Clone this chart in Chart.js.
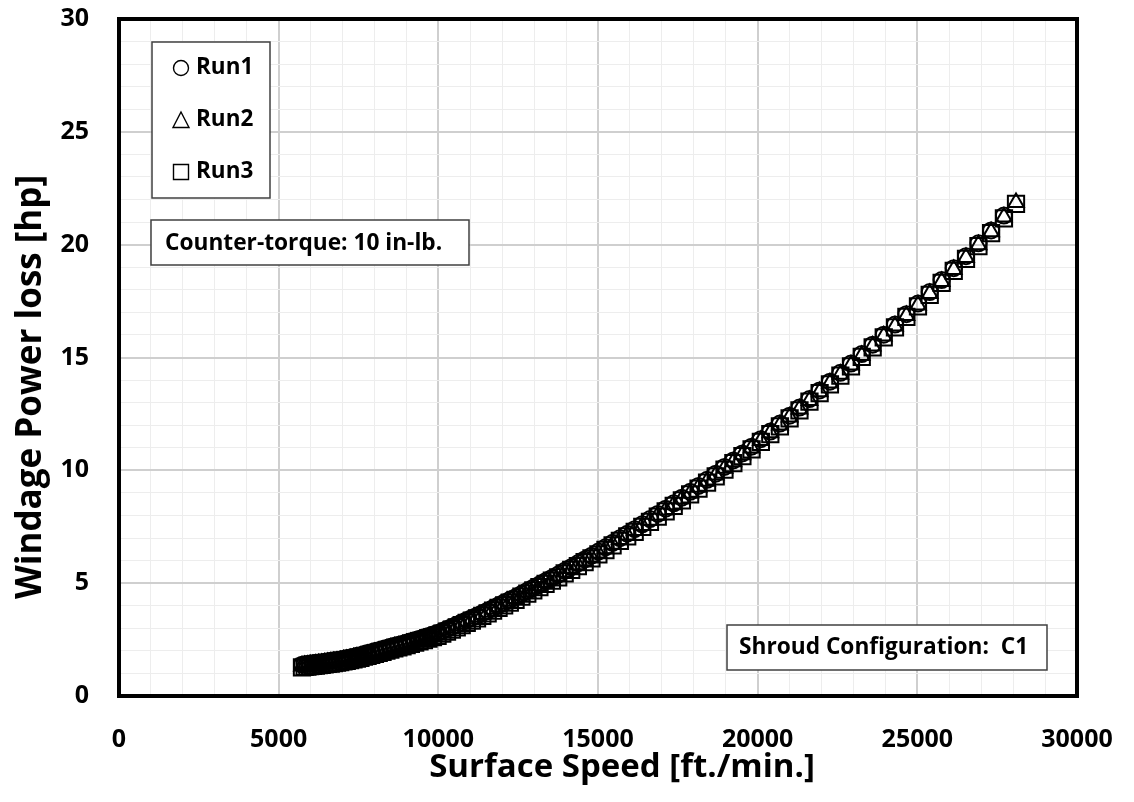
<!DOCTYPE html>
<html><head><meta charset="utf-8">
<script src="https://cdn.jsdelivr.net/npm/chart.js@4.4.1/dist/chart.umd.min.js"></script>
<style>html,body{margin:0;padding:0;background:#fff;}#wrap{width:1134px;height:802px;position:relative;}</style>
</head><body><div id="wrap"><canvas id="c" width="1134" height="802"></canvas></div>
<script>
// ---- data ----
const speedFtMin = [
5730,5814,5900,5987,6075,6164,6255,6347,6440,6535,
6631,6728,6827,6927,7029,7132,7237,7343,7451,7561,
7672,7785,7899,8015,8133,8253,8374,8497,8622,8749,
8878,9008,9140,9275,9411,9549,9690,9832,9977,10124,
10272,10423,10577,10732,10890,11050,11212,11377,11544,11714,
11886,12061,12238,12418,12601,12786,12974,13165,13358,13555,
13754,13956,14161,14369,14581,14795,15012,15233,15457,15684,
15915,16149,16386,16627,16871,17119,17371,17626,17885,18148,
18415,18686,18961,19239,19522,19809,20100,20396,20696,21000,
21309,21622,21940,22263,22590,22922,23259,23601,23948,24300,
24657,25020,25388,25761,26140,26524,26914,27310,27711,28090];
const run1Hp = [
1.39,1.41,1.42,1.44,1.45,1.47,1.49,1.50,1.52,1.54,
1.56,1.58,1.60,1.62,1.65,1.68,1.71,1.74,1.78,1.81,
1.86,1.90,1.94,1.99,2.03,2.08,2.13,2.18,2.23,2.27,
2.32,2.37,2.43,2.48,2.54,2.60,2.66,2.73,2.79,2.88,
2.97,3.06,3.16,3.26,3.36,3.46,3.56,3.67,3.78,3.90,
4.02,4.14,4.26,4.38,4.52,4.66,4.80,4.94,5.09,5.23,
5.38,5.55,5.71,5.88,6.05,6.22,6.40,6.59,6.79,6.99,
7.19,7.39,7.61,7.84,8.07,8.30,8.54,8.79,9.05,9.31,
9.58,9.85,10.15,10.44,10.75,11.05,11.38,11.72,12.07,12.42,
12.78,13.16,13.54,13.93,14.32,14.73,15.15,15.57,16.01,16.46,
16.92,17.39,17.90,18.43,18.96,19.49,20.06,20.63,21.29];
const run2Hp = [
1.33,1.35,1.36,1.38,1.39,1.41,1.43,1.44,1.46,1.48,
1.50,1.52,1.54,1.56,1.59,1.62,1.65,1.68,1.72,1.75,
1.80,1.84,1.88,1.93,1.97,2.02,2.07,2.12,2.17,2.21,
2.26,2.31,2.37,2.42,2.48,2.54,2.60,2.67,2.73,2.82,
2.91,3.00,3.10,3.20,3.30,3.40,3.50,3.61,3.72,3.84,
3.96,4.08,4.20,4.32,4.46,4.60,4.74,4.88,5.03,5.17,
5.32,5.49,5.65,5.82,5.99,6.16,6.34,6.53,6.73,6.93,
7.13,7.33,7.55,7.78,8.01,8.24,8.48,8.73,8.99,9.25,
9.52,9.79,10.09,10.38,10.69,10.99,11.32,11.66,12.01,12.36,
12.72,13.10,13.48,13.87,14.26,14.67,15.09,15.51,15.95,16.40,
16.86,17.33,17.84,18.37,18.90,19.43,20.00,20.57,21.23,21.87];
const run3Hp = [
1.27,1.29,1.30,1.32,1.33,1.35,1.37,1.38,1.40,1.42,
1.44,1.46,1.48,1.50,1.53,1.56,1.59,1.62,1.66,1.69,
1.74,1.78,1.82,1.87,1.91,1.96,2.01,2.06,2.11,2.15,
2.20,2.25,2.31,2.36,2.42,2.48,2.54,2.61,2.67,2.76,
2.85,2.94,3.04,3.14,3.24,3.34,3.44,3.55,3.66,3.78,
3.90,4.02,4.14,4.26,4.40,4.54,4.68,4.82,4.97,5.11,
5.26,5.43,5.59,5.76,5.93,6.10,6.28,6.47,6.67,6.87,
7.07,7.27,7.49,7.72,7.95,8.18,8.42,8.67,8.93,9.19,
9.46,9.73,10.03,10.32,10.63,10.93,11.26,11.60,11.95,12.30,
12.66,13.04,13.42,13.81,14.20,14.61,15.03,15.45,15.89,16.34,
16.80,17.27,17.78,18.31,18.84,19.37,19.94,20.51,21.17,21.81];
const seriesNames = ['Run1','Run2','Run3'];
const xTickLabels = ['0','5000','10000','15000','20000','25000','30000'];
const yTickLabels = ['0','5','10','15','20','25','30'];
const xAxisTitle = 'Surface Speed [ft./min.]';
const yAxisTitle = 'Windage Power loss [hp]';
const noteTorque = 'Counter-torque: 10 in-lb.';
const noteShroud = 'Shroud Configuration:  C1';

// ---- chart ----
const FAM = '"Open Sans", "Liberation Sans", sans-serif';
const toPts = hp => hp.map((y, i) => ({x: speedFtMin[i], y}));

function drawSym(ctx, kind, cx, cy) {
  ctx.save();
  ctx.strokeStyle = '#000'; ctx.lineWidth = 1.4;
  ctx.beginPath();
  if (kind === 0) ctx.arc(cx, cy, 7.5, 0, Math.PI * 2);
  else if (kind === 1) { ctx.moveTo(cx, cy - 8); ctx.lineTo(cx + 8, cy + 7.5); ctx.lineTo(cx - 8, cy + 7.5); ctx.closePath(); }
  else ctx.rect(cx - 7.5, cy - 7.5, 15, 15);
  ctx.stroke();
  ctx.restore();
}
function box(ctx, x, y, w, h) {
  ctx.save();
  ctx.fillStyle = '#fff'; ctx.fillRect(x, y, w, h);
  ctx.strokeStyle = '#404040'; ctx.lineWidth = 1.5; ctx.strokeRect(x, y, w, h);
  ctx.restore();
}

const decor = {
  id: 'decor',
  afterDatasetsDraw(chart) {
    const ctx = chart.ctx, ca = chart.chartArea;
    const lx = ca.left + 33, ly = ca.top + 23;
    box(ctx, lx, ly, 118, 156);
    ctx.save();
    ctx.fillStyle = '#000'; ctx.textBaseline = 'middle'; ctx.textAlign = 'left';
    ctx.font = 'bold 22.5px ' + FAM;
    seriesNames.forEach((n, i) => {
      const cy = ly + 26 + i * 52;
      drawSym(ctx, i, lx + 29, cy);
      ctx.fillText(n, lx + 44, cy);
    });
    ctx.restore();
    ctx.save();
    ctx.textBaseline = 'middle'; ctx.textAlign = 'left';
    ctx.font = 'bold 22.7px ' + FAM;
    box(ctx, ca.left + 32, ca.top + 201, 318, 45);
    ctx.fillStyle = '#000';
    ctx.fillText(noteTorque, ca.left + 46, ca.top + 225);
    box(ctx, ca.left + 608, ca.top + 606, 320, 45);
    ctx.fillStyle = '#000';
    ctx.fillText(noteShroud, ca.left + 620, ca.top + 629);
    ctx.restore();
  },
  afterDraw(chart) {
    const ctx = chart.ctx, ca = chart.chartArea;
    ctx.save();
    ctx.strokeStyle = '#000'; ctx.lineWidth = 4;
    ctx.strokeRect(ca.left, ca.top, ca.right - ca.left, ca.bottom - ca.top);
    ctx.fillStyle = '#000'; ctx.textAlign = 'center'; ctx.textBaseline = 'middle';
    ctx.font = 'bold 33px ' + FAM;
    ctx.fillText(xAxisTitle, 622, 768);
    ctx.font = 'bold 35px ' + FAM;
    ctx.translate(31, 387); ctx.rotate(-Math.PI / 2);
    ctx.fillText(yAxisTitle, 0, 0);
    ctx.restore();
  }
};

const tickFont = {family: FAM, size: 25, weight: 'bold'};
const majorX = c => c.tick && c.tick.value % 5000 === 0;
const majorY = c => c.tick && c.tick.value % 5 === 0;
new Chart(document.getElementById('c'), {
  type: 'scatter',
  data: {
    datasets: [
      {label: seriesNames[0], data: toPts(run1Hp), pointStyle: 'circle', pointRadius: 8},
      {label: seriesNames[1], data: toPts(run2Hp), pointStyle: 'triangle', pointRadius: 9},
      {label: seriesNames[2], data: toPts(run3Hp), pointStyle: 'rect', pointRadius: 11.5}
    ].map(d => Object.assign(d, {showLine: false, pointBorderColor: '#000', pointBorderWidth: 2,
      pointBackgroundColor: 'rgba(0,0,0,0)', pointHoverRadius: d.pointRadius}))
  },
  options: {
    responsive: false, maintainAspectRatio: false, animation: false, events: [],
    layout: {padding: {top: 19, right: 57, bottom: 0, left: 0}},
    plugins: {legend: {display: false}, tooltip: {enabled: false}},
    scales: {
      x: {
        type: 'linear', min: 0, max: 30000,
        afterFit: s => { s.height = 106; },
        border: {display: false},
        grid: {drawTicks: true, tickLength: 29, tickColor: 'rgba(0,0,0,0)',
          color: c => majorX(c) ? '#cfcfcf' : '#ededed',
          lineWidth: c => majorX(c) ? 2 : 1},
        ticks: {stepSize: 1000, autoSkip: false, maxRotation: 0, padding: 0, color: '#000', font: tickFont,
          callback: v => (v % 5000 === 0) ? xTickLabels[v / 5000] : ''}
      },
      y: {
        type: 'linear', min: 0, max: 30,
        afterFit: s => { s.width = 119; },
        border: {display: false},
        grid: {drawTicks: true, tickLength: 30, tickColor: 'rgba(0,0,0,0)',
          color: c => majorY(c) ? '#cfcfcf' : '#ededed',
          lineWidth: c => majorY(c) ? 2 : 1},
        ticks: {stepSize: 1, autoSkip: false, padding: 0, color: '#000', font: tickFont,
          callback: v => (v % 5 === 0) ? yTickLabels[v / 5] : ''}
      }
    }
  },
  plugins: [decor]
});
</script></body></html>
